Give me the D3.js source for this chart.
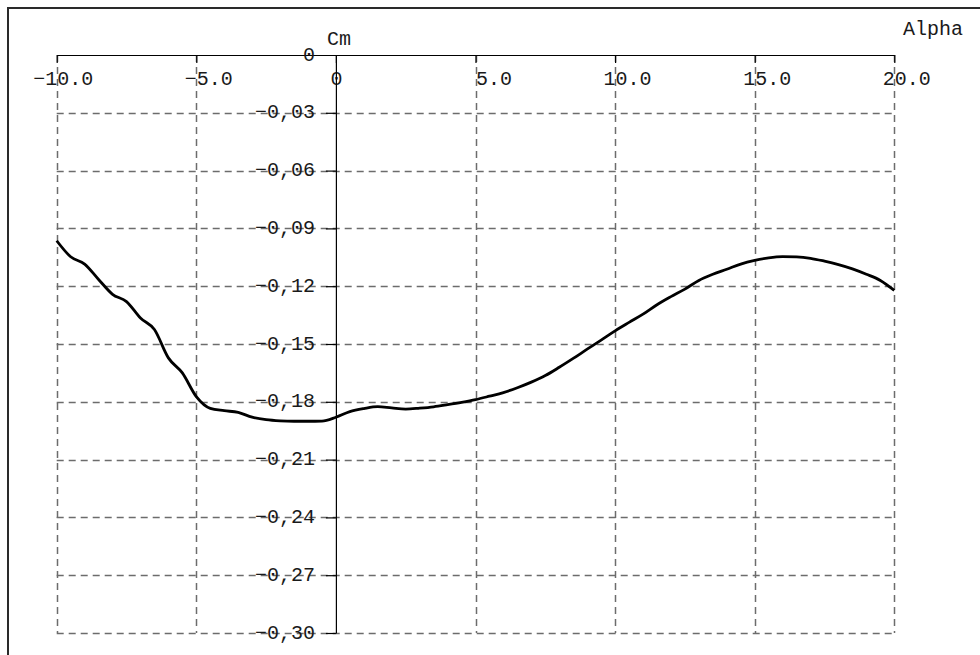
<!DOCTYPE html>
<html>
<head>
<meta charset="utf-8">
<script src="https://cdn.jsdelivr.net/npm/d3@7"></script>
<style>
  html, body { margin: 0; padding: 0; background: #fff; }
  svg { display: block; }
  text { font-family: "Liberation Mono", "DejaVu Sans Mono", monospace; fill: #1a1a1a; }
</style>
</head>
<body>
<svg id="chart" width="980" height="655"></svg>
<script>
// Pitching moment coefficient Cm versus angle of attack Alpha (degrees)
const alpha = [
  -10, -9.5, -9, -8.5, -8, -7.5, -7, -6.5, -6, -5.5,
  -5, -4.5, -4, -3.5, -3, -2.5, -2, -1.5, -1, -0.5,
  0, 0.5, 1, 1.5, 2, 2.5, 3, 3.5, 4, 4.5,
  5, 5.5, 6, 6.5, 7, 7.5, 8, 8.5, 9, 9.5,
  10, 10.5, 11, 11.5, 12, 12.5, 13, 13.5, 14, 14.5,
  15, 15.5, 16, 16.5, 17, 17.5, 18, 18.5, 19, 19.5, 20
];
const cm = [
  -0.0964, -0.1047, -0.1085, -0.1165, -0.1242, -0.1280, -0.1365, -0.1425, -0.1572, -0.1650,
  -0.1773, -0.1834, -0.1846, -0.1855, -0.1880, -0.1893, -0.1899, -0.1901, -0.1901, -0.1900,
  -0.1880, -0.1851, -0.1835, -0.1825, -0.1832, -0.1838, -0.1833, -0.1826, -0.1815, -0.1803,
  -0.1789, -0.1771, -0.1752, -0.1727, -0.1698, -0.1664, -0.1621, -0.1575, -0.1527, -0.1480,
  -0.1432, -0.1388, -0.1345, -0.1296, -0.1254, -0.1215, -0.1170, -0.1138, -0.1112, -0.1085,
  -0.1066, -0.1053, -0.1047, -0.1048, -0.1055, -0.1070, -0.1088, -0.1110, -0.1138, -0.1170, -0.1222
];

const alphaTicks = [-10, -5, 0, 5, 10, 15, 20];
const alphaTickLabels = ["\u221210.0", "\u22125.0", "0", "5.0", "10.0", "15.0", "20.0"];
const cmTicks = [0, -0.03, -0.06, -0.09, -0.12, -0.15, -0.18, -0.21, -0.24, -0.27, -0.30];
const cmTickLabels = ["0", "\u22120,03", "\u22120,06", "\u22120,09", "\u22120,12", "\u22120,15",
                      "\u22120,18", "\u22120,21", "\u22120,24", "\u22120,27", "\u22120,30"];
const xTitle = "Alpha";
const yTitle = "Cm";

const svg = d3.select("#chart");
const FONT = 20;

const x = d3.scaleLinear().domain([-10, 20]).range([56.7, 894.3]);
const y = d3.scaleLinear().domain([0, -0.30]).range([55, 633]);

// window frame
svg.append("path")
  .attr("d", "M8,700 L8,8 L1000,8")
  .attr("fill", "none")
  .attr("stroke", "#2a2a2a")
  .attr("stroke-width", 2);

// dashed grid
const grid = svg.append("g")
  .attr("stroke", "#6c6c6c")
  .attr("stroke-width", 1.5)
  .attr("stroke-dasharray", "7,5")
  .attr("fill", "none");

grid.selectAll("line.v")
  .data(alphaTicks.filter(d => d !== 0))
  .join("line")
  .attr("class", "v")
  .attr("x1", d => Math.round(x(d)) + 0.5)
  .attr("x2", d => Math.round(x(d)) + 0.5)
  .attr("y1", y(0))
  .attr("y2", y(-0.30));

grid.selectAll("line.h")
  .data(cmTicks.filter(d => d !== 0))
  .join("line")
  .attr("class", "h")
  .attr("x1", x(-10))
  .attr("x2", x(20))
  .attr("y1", d => Math.round(y(d)) + 0.5)
  .attr("y2", d => Math.round(y(d)) + 0.5);

// Alpha axis along the zero line of Cm, ticks pointing into the plot
const xAxis = d3.axisBottom(x)
  .tickValues(alphaTicks)
  .tickFormat((d, i) => alphaTickLabels[i])
  .tickSize(8)
  .tickSizeOuter(0);

const gx = svg.append("g")
  .attr("transform", `translate(0,${y(0)})`)
  .call(xAxis);
gx.select(".domain").attr("stroke", "#000").attr("stroke-width", 1.2);
gx.selectAll(".tick line").attr("stroke", "#000").attr("stroke-width", 1.2);
gx.selectAll(".tick text")
  .attr("font-size", FONT)
  .attr("font-family", null)
  .attr("fill", "#1a1a1a")
  .attr("y", 30)
  .attr("dy", 0)
  .attr("text-anchor", (d, i) => alphaTickLabels[i] === "0" ? "middle" : "end")
  .attr("dx", (d, i) => alphaTickLabels[i] === "0" ? 0 : "1.8em");

// Cm axis at Alpha = 0
const yAxis = d3.axisLeft(y)
  .tickValues(cmTicks)
  .tickFormat((d, i) => cmTickLabels[i])
  .tickSize(10)
  .tickSizeOuter(0)
  .tickPadding(11);

const gy = svg.append("g")
  .attr("transform", `translate(${x(0)},0)`)
  .call(yAxis);
gy.select(".domain").attr("stroke", "#000").attr("stroke-width", 1.2);
gy.selectAll(".tick line").attr("stroke", "#000").attr("stroke-width", 1.2)
  .attr("display", d => d === 0 ? "none" : null);
gy.selectAll(".tick text")
  .attr("font-size", FONT)
  .attr("font-family", null)
  .attr("fill", "#1a1a1a")
  .attr("dy", 5);

// axis titles
svg.append("text")
  .attr("x", x(0) - 9)
  .attr("y", 45)
  .attr("font-size", FONT)
  .text(yTitle);

svg.append("text")
  .attr("x", 903)
  .attr("y", 35)
  .attr("font-size", FONT)
  .text(xTitle);

// Cm curve
const pts = alpha.map((a, i) => [a, cm[i]]);
svg.append("path")
  .datum(pts)
  .attr("fill", "none")
  .attr("stroke", "#000")
  .attr("stroke-width", 2.8)
  .attr("stroke-linejoin", "round")
  .attr("d", d3.line().x(d => x(d[0])).y(d => y(d[1])).curve(d3.curveMonotoneX));
</script>
</body>
</html>
